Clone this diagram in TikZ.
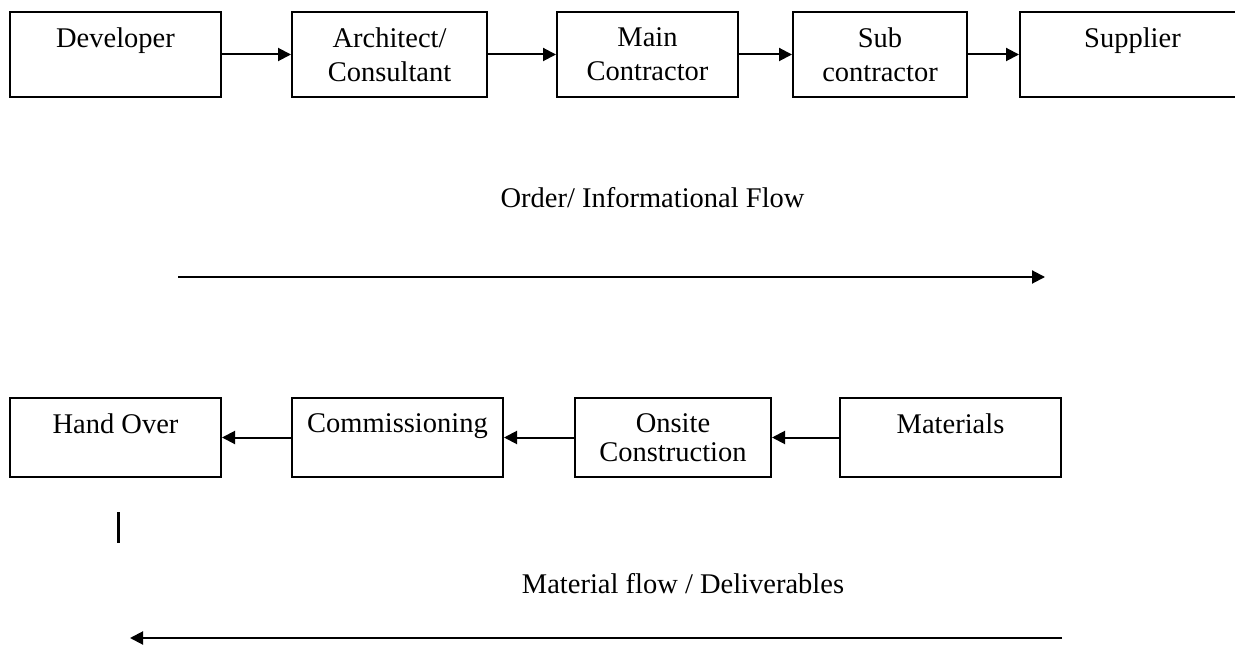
\documentclass[tikz,border=0pt]{standalone}
\usepackage{fontspec}
\setmainfont{Liberation Serif}
\usetikzlibrary{arrows.meta}

\begin{document}
\begin{tikzpicture}[x=0.5pt,y=-0.5pt,
  stage/.style={draw, line width=1pt, inner sep=0pt},
  lbl/.style={font=\fontsize{14.25}{17}\selectfont, align=center, anchor=north, inner sep=0pt, yshift=-8pt},
  flow/.style={line width=1pt, -{Triangle[length=6.5pt,width=6.5pt]}}]
\useasboundingbox (0,0) rectangle (1235,646);

% order / information chain
\node[stage, minimum width=105.5pt, minimum height=42.5pt, label={[lbl]north:Developer}] (dev) at (115.5,54.5) {};
\node[stage, minimum width=97.5pt, minimum height=42.5pt, label={[lbl]north:Architect/\\Consultant}] (arch) at (389.5,54.5) {};
\node[stage, minimum width=90.5pt, minimum height=42.5pt, label={[lbl]north:Main\\Contractor}] (main) at (647.5,54.5) {};
\node[stage, minimum width=87pt, minimum height=42.5pt, label={[lbl]north:Sub\\contractor}] (sub) at (880,54.5) {};
\node[stage, minimum width=112.5pt, minimum height=42.5pt, label={[lbl]north:Supplier}] (supp) at (1132.5,54.5) {};

\draw[flow] (dev) -- (arch);
\draw[flow] (arch) -- (main);
\draw[flow] (main) -- (sub);
\draw[flow] (sub) -- (supp);

\node[font=\fontsize{14.25}{17}\selectfont, anchor=base] (orderflow) at (652.5,208) {Order/ Informational Flow};
\coordinate (of-start) at (178,277);
\coordinate (of-end) at (1045,277);
\draw[flow] (of-start) -- (of-end);

% material / deliverables chain
\node[stage, minimum width=105.5pt, minimum height=39.5pt, label={[lbl]north:Hand Over}] (hand) at (115.5,437.5) {};
\node[stage, minimum width=105.5pt, minimum height=39.5pt, label={[lbl]north:Commissioning}] (comm) at (397.5,437.5) {};
\node[stage, minimum width=98pt, minimum height=39.5pt, label={[lbl, font=\fontsize{14.25}{14.5}\selectfont]north:Onsite\\Construction}] (onsite) at (673,437.5) {};
\node[stage, minimum width=110.5pt, minimum height=39.5pt, label={[lbl]north:Materials}] (mat) at (950.5,437.5) {};

\draw[flow] (comm) -- (hand);
\draw[flow] (onsite) -- (comm);
\draw[flow] (mat) -- (onsite);

\coordinate (bar-top) at (118,512);
\coordinate (bar-bot) at (118,543);
\draw[line width=1.5pt] (bar-top) -- (bar-bot);

\node[font=\fontsize{14.25}{17}\selectfont, anchor=base] (matflow) at (683,593) {Material flow / Deliverables};
\coordinate (mf-start) at (1062,638);
\coordinate (mf-end) at (130,638);
\draw[flow] (mf-start) -- (mf-end);
\end{tikzpicture}
\end{document}
